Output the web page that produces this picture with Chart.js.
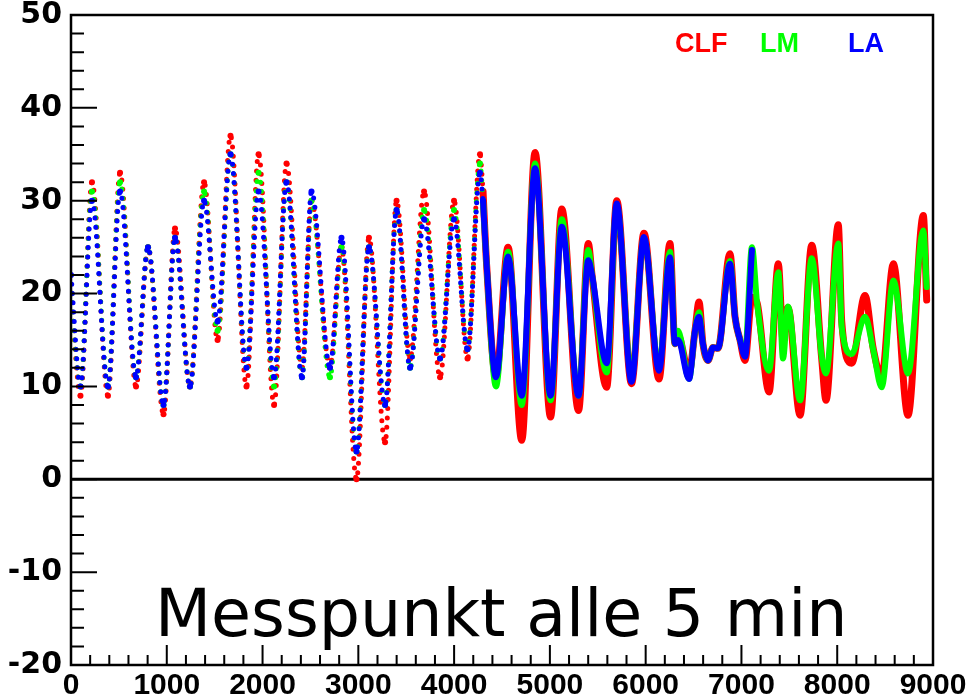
<!DOCTYPE html>
<html>
<head>
<meta charset="utf-8">
<script src="https://cdn.jsdelivr.net/npm/chart.js@4.4.0/dist/chart.umd.min.js"></script>
<style>
  html, body { margin: 0; padding: 0; background: #fff; }
</style>
</head>
<body>
<canvas id="mychart" width="968" height="700"></canvas>
<script>
// Messpunkt index (one point every 5 min), turning points of the curves
var samples = [0, 99, 219, 386, 512, 679, 804, 966, 1086, 1242,
    1389, 1530, 1665, 1832, 1958, 2120, 2250, 2412, 2511, 2704,
    2824, 2981, 3111, 3279, 3399, 3540, 3686, 3853, 3999, 4140, 4270,
    4302, 4340, 4437, 4563, 4706, 4845, 5007, 5124, 5299, 5401,
    5440, 5593, 5698, 5852, 5982, 6139, 6254, 6306, 6338, 6453,
    6515, 6557, 6598, 6651, 6703, 6755, 6880, 6933, 6985, 7037,
    7110, 7163, 7288, 7385, 7434, 7486, 7612, 7734, 7838, 7883,
    8011, 8047, 8151, 8290, 8377, 8464, 8586, 8739, 8899, 8934];

var clf = [20, 9, 32, 9, 33, 10, 25, 7, 27, 10,
    32, 15, 37, 10, 35, 8, 34, 12, 30, 12,
    25, 0, 26, 4, 30, 13, 31, 11, 30, 13, 35,
    31, 23, 11, 25, 4.2, 35.2, 6.7, 29.1, 7.4, 25.4,
    22, 9.9, 30, 10.3, 26.5, 10.8, 25.4, 14.6, 15.5, 11.5,
    16, 19.1, 14.6, 12.8, 14.2, 14.1, 24.3, 17.5, 15, 12.8,
    19.6, 19, 9.4, 23.2, 15, 18.5, 6.9, 25.2, 13, 8.5,
    27.4, 17, 12.5, 19.8, 14, 11, 23.2, 6.9, 28.4, 19.3];

var lm = [20, 10, 31, 10, 32, 11, 25, 8, 26, 10,
    31, 16, 35, 12, 33, 10, 32, 11, 30, 11,
    25, 3, 25, 8, 29, 12, 29, 13, 29, 14, 34,
    30, 23, 10, 24.5, 8, 34, 8.5, 28, 9, 24.7,
    22, 11.5, 29.5, 11, 26, 12, 24.5, 14.6, 16, 10.8,
    16, 18, 14.6, 12.8, 14.2, 14.1, 23.5, 17.5, 15, 13.5,
    25, 19, 11.7, 22.3, 13, 18.6, 8.5, 23.8, 13.2, 11.4,
    25.4, 16.4, 13.5, 17.5, 13.9, 9.9, 21.4, 11.4, 26.8, 20.7];

var la = [22, 10, 30, 10, 31, 11, 25, 8, 26, 10,
    30, 17, 35, 12, 31, 11, 32, 11, 31, 12,
    26, 3, 25, 8, 29, 12, 28, 13, 28, 14, 33,
    30, 23, 11, 24, 9, 33.5, 9, 27.2, 9, 23.6,
    22, 12.5, 29.7, 10.5, 26.1, 11.7, 23.9, 14.6, 15, 10.8,
    16, 17.5, 14.6, 12.8, 14.2, 14.1, 23.2, 17.5, 15, 13.2,
    24.7, null, null, null, null, null, null, null, null, null,
    null, null, null, null, null, null, null, null, null, null];

// first part: integer readings (dots), from this index on: 0.1 readings (dense)
var denseFrom = 31;

var xTicks = [0, 9000, 1000, 200];   // min, max, major, minor
var yTicks = [-20, 50, 10, 2];

var names = ['CLF', 'LM', 'LA'];
var colors = ['#ff0000', '#00ff00', '#0000ff'];

function pts(values, from, to) {
    var out = [];
    for (var i = from; i < to; i++) {
        if (values[i] !== null) out.push({ x: samples[i], y: values[i] });
    }
    return out;
}

function dotted(values, color, order) {
    return {
        data: pts(values, 0, denseFrom + 1),
        borderColor: color,
        backgroundColor: color,
        borderWidth: 5,
        borderDash: [0, 9.3],
        borderCapStyle: 'round',
        pointRadius: 3,
        pointBorderWidth: 0,
        cubicInterpolationMode: 'monotone',
        order: order
    };
}

function band(values, color, order, w) {
    return {
        data: pts(values, denseFrom, samples.length),
        borderColor: color,
        backgroundColor: color,
        borderWidth: w,
        borderCapStyle: 'round',
        borderJoinStyle: 'round',
        pointRadius: 0,
        cubicInterpolationMode: 'monotone',
        order: order
    };
}

var rootFrame = {
    id: 'rootFrame',
    beforeDatasetsDraw: function(chart) {
        var ctx = chart.ctx, a = chart.chartArea;
        var y0 = chart.scales.y.getPixelForValue(0);
        ctx.save();
        ctx.strokeStyle = '#000';
        ctx.lineWidth = 3;
        ctx.beginPath();
        ctx.moveTo(a.left, y0);
        ctx.lineTo(a.right, y0);
        ctx.stroke();
        ctx.restore();
    },
    afterDatasetsDraw: function(chart) {
        var ctx = chart.ctx, a = chart.chartArea;
        var xs = chart.scales.x, ys = chart.scales.y;
        var v, p, len;
        ctx.save();
        ctx.strokeStyle = '#000';
        ctx.lineWidth = 2.5;
        ctx.strokeRect(a.left, a.top, a.right - a.left, a.bottom - a.top);

        ctx.lineWidth = 2;
        ctx.beginPath();
        for (v = yTicks[0]; v <= yTicks[1]; v += yTicks[3]) {
            p = ys.getPixelForValue(v);
            len = (v % yTicks[2] === 0) ? 26 : 13;
            ctx.moveTo(a.left, p);
            ctx.lineTo(a.left + len, p);
        }
        for (v = xTicks[0]; v <= xTicks[1]; v += xTicks[3]) {
            p = xs.getPixelForValue(v);
            len = (v % xTicks[2] === 0) ? 20 : 10;
            ctx.moveTo(p, a.bottom);
            ctx.lineTo(p, a.bottom - len);
        }
        ctx.stroke();

        // legend
        ctx.font = 'bold 27px "Liberation Sans", Arial, sans-serif';
        ctx.textBaseline = 'alphabetic';
        ctx.textAlign = 'left';
        var lx = [675, 760, 848];
        for (var i = 0; i < names.length; i++) {
            ctx.fillStyle = colors[i];
            ctx.fillText(names[i], lx[i], 52);
        }

        ctx.fillStyle = '#000';
        ctx.font = '65px "DejaVu Sans", sans-serif';
        ctx.fillText('Messpunkt alle 5 min', 155, 636);
        ctx.restore();
    }
};

var ctx = document.getElementById('mychart').getContext('2d');
var myChart = new Chart(ctx, {
    type: 'line',
    data: {
        datasets: [
            dotted(la, colors[2], 0),
            band(la, colors[2], 1, 6),
            dotted(lm, colors[1], 2),
            band(lm, colors[1], 3, 6),
            dotted(clf, colors[0], 4),
            band(clf, colors[0], 5, 7)
        ]
    },
    options: {
        responsive: false,
        animation: false,
        layout: { padding: { top: 15, right: 35, bottom: 0, left: 0 } },
        plugins: {
            legend: { display: false },
            tooltip: { enabled: false }
        },
        scales: {
            x: {
                type: 'linear',
                min: xTicks[0],
                max: xTicks[1],
                grid: { display: false, drawTicks: false },
                border: { display: false },
                ticks: {
                    stepSize: xTicks[2],
                    padding: 6,
                    color: '#000',
                    maxRotation: 0,
                    autoSkip: false,
                    callback: function(value) { return String(value); },
                    font: { family: '"Liberation Sans", Arial, sans-serif', weight: 'bold', size: 30, lineHeight: 1 }
                },
                afterFit: function(scale) {
                    scale.height = 35;
                    scale.paddingLeft = 0;
                    scale.paddingRight = 0;
                }
            },
            y: {
                min: yTicks[0],
                max: yTicks[1],
                grid: { display: false, drawTicks: false },
                border: { display: false },
                ticks: {
                    stepSize: yTicks[2],
                    padding: 9,
                    color: '#000',
                    font: { family: '"DejaVu Sans", sans-serif', weight: 'bold', size: 30, lineHeight: 1 }
                },
                afterFit: function(scale) {
                    scale.width = 71;
                    scale.paddingTop = 0;
                    scale.paddingBottom = 0;
                }
            }
        }
    },
    plugins: [rootFrame]
});
</script>
</body>
</html>
